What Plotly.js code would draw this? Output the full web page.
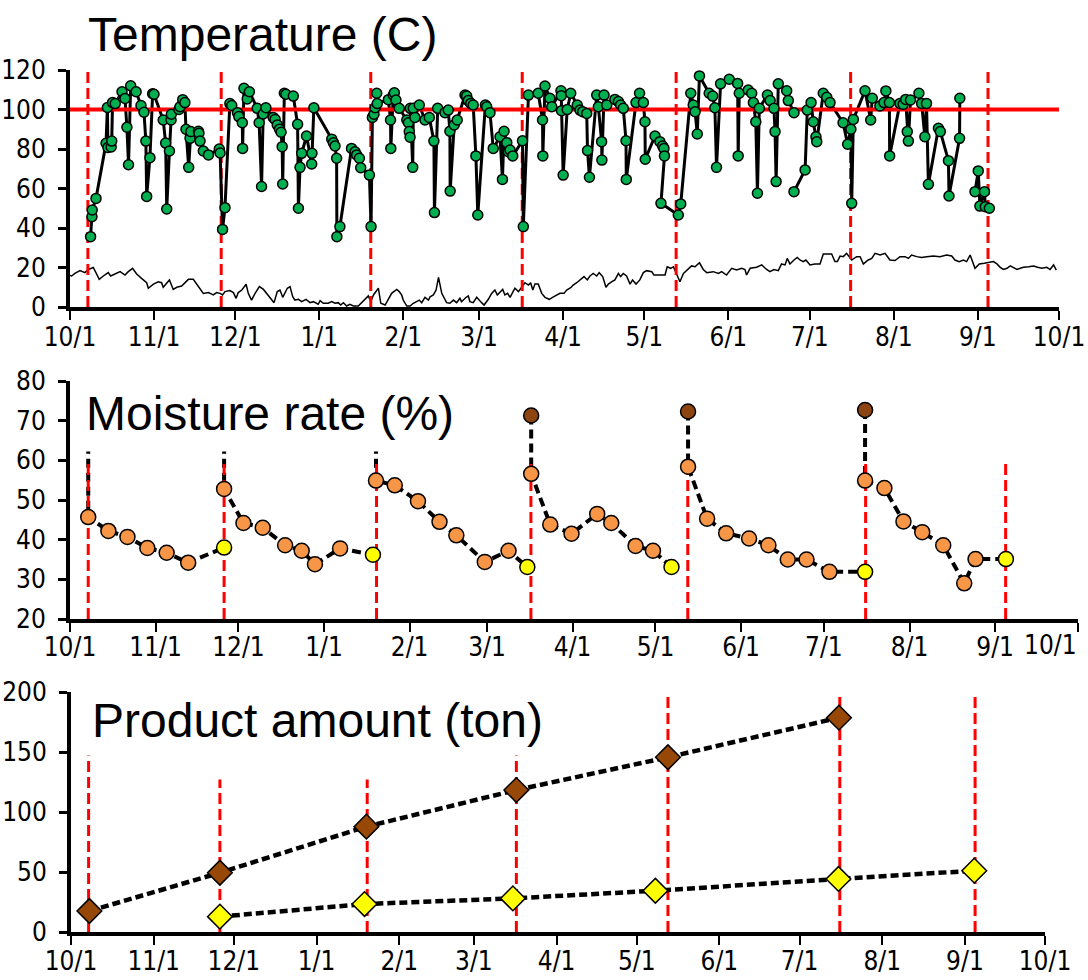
<!DOCTYPE html>
<html><head><meta charset="utf-8">
<script src="https://cdn.plot.ly/plotly-3.0.1.min.js"></script>
<style>html,body{margin:0;padding:0;background:#fff}</style>
</head><body><div id="chart" style="width:1088px;height:980px"></div>
<script>
// ---- data (days counted from 2013-10-01) ----
const startDate = '2013-10-01';
const yearDays = 365;

// batch changeover days (red dashed lines)
const batchDay = [6.6, 55.8, 111.0, 166.9, 223.7, 288.1, 338.8];
const batchProductTop = [147, 127, 127, 147, 200, 200, 200];

// product temperature (green points); null = gap
const tempDay = [
 7.6,8.1,8.2,9.6,13.3,13.8,14.0,15.2,15.4,15.7,16.7,19.2,20.3,21.0,21.6,22.4,24.4,26.2,27.3,28.0,28.3,29.5,30.5,31.0,34.4,35.3,35.7,36.7,37.3,37.4,40.2,40.6,41.6,42.4,42.8,43.8,44.3,44.6,47.4,47.6,48.0,49.2,51.1,55.1,55.4,
 56.3,57.2,59.0,59.7,61.8,62.3,63.6,63.7,64.2,65.4,66.2,69.1,69.8,70.7,71.3,72.3,75.0,75.7,76.5,77.3,77.9,78.3,78.5,79.1,79.7,82.4,84.0,84.3,84.9,85.5,87.3,89.2,89.3,90.0,96.6,97.2,97.8,98.4,98.5,99.6,103.9,105.2,105.8,106.8,107.3,110.5,
 111.1,111.6,112.2,112.6,113.2,113.4,117.5,118.3,118.4,119.3,119.7,120.3,121.5,124.3,124.9,125.2,125.5,125.6,126.5,126.7,127.3,128.9,131.0,132.6,134.3,134.5,135.7,138.4,139.6,140.2,140.3,141.8,142.9,145.8,146.4,147.0,147.9,148.8,149.8,150.5,153.3,153.8,155.0,156.2,158.7,159.6,160.2,161.2,161.8,162.4,163.4,167.0,
 167.3,169.2,172.8,174.4,174.5,175.3,177.1,177.8,181.2,181.3,181.4,182.0,183.5,184.8,187.2,188.2,189.2,190.7,191.0,191.7,194.4,195.0,196.2,196.3,197.1,198.1,201.1,202.4,203.2,204.2,205.2,205.3,208.9,210.2,211.6,212.2,212.3,215.9,217.7,218.7,219.2,219.4,218.1,
 224.5,225.4,229.1,230.0,230.7,231.5,232.3,235.9,237.2,238.0,238.6,240.1,243.3,246.4,246.6,247.0,250.3,251.6,252.2,253.1,253.7,254.4,257.4,258.4,259.8,260.2,260.6,261.4,264.5,265.1,267.2,null,267.2,271.3,272.1,273.5,274.3,275.3,275.6,278.0,279.3,280.5,285.3,287.0,288.2,
 288.5,289.1,293.4,295.5,296.1,298.9,300.4,301.1,302.4,302.5,306.3,307.5,308.4,309.0,309.4,310.2,313.3,314.3,315.5,316.1,316.8,320.5,321.2,324.2,324.4,328.3,328.4,null,334.0,335.2,335.8,337.5,337.8,339.3
];
const tempVal = [
 35.6,45.7,49.1,55,82.9,101,80.8,81,84,103.5,103,109,105.6,91,72,112,109,102,98.6,84,56,75.6,108,107.7,94.7,83,49.6,79,94.7,97.6,100,101.4,105,103.5,90,70.7,85.4,88.8,89,88,84,79,77,80,78,
 39.3,50.3,103,102,98.4,96.4,93.3,80.3,110.7,105.3,109,100.6,93.3,61,97.7,100.9,96,95,92.2,90,88.5,81.2,62.3,108.2,107.7,106.8,92.5,50,70.7,77.8,86.6,72.4,77.8,100.9,85,83.2,81.5,75.3,35.6,40.7,80.3,78.6,77,75.3,70.5,66.8,
 40.7,96,97.6,100.9,108.2,103,105,94.7,80.3,107.3,108.5,104.8,100.6,94.7,93.3,88.8,86,100.6,70.7,100.6,96,102.3,94.7,96,84,47.8,100.6,98.4,99.7,89,58.7,92.2,94.7,107.3,106.8,104.5,103.1,102.3,76.5,46.6,102.3,101.4,98.4,80.3,86.2,64.6,89,83.2,78.6,79.5,76.5,84.2,
 40.7,107.3,108.2,94.7,76.5,111.9,105.7,101.4,109.5,107,99.4,66.8,100,108.2,102.3,99.7,98.9,98,79.2,65.7,107.3,101.4,83.7,74.4,107.3,102.3,105.1,104,102.3,100.6,84.2,64.6,103.5,108.2,103.5,93.8,74.8,86.6,83.7,81.5,80.3,76.5,52.5,
 46.6,52.2,108.2,102.3,98.9,87.6,117,108.2,106.8,100.9,70.7,113,115.3,113.2,76.5,108.2,109.9,108.2,103.5,93.8,57.6,100.6,107.3,104.5,100.6,88.8,63.5,113,109.5,104.5,98.4,null,58.4,69.4,99.7,103.5,93.8,86.2,83.7,108.2,106.2,103.5,93.3,82.4,90,
 52.5,95,109.5,94.7,105.7,101.8,103.5,109.4,103.5,76.5,103.1,102.6,105.1,88.8,84,104.8,108.2,103.1,86.2,103.1,62.1,90.5,88.8,74.1,56.2,85.4,105.7,null,58.4,68.9,51.1,58.4,50.8,50
];
const tempLimit = 100;

// outside air temperature (thin line)
const ambDay = [
 0,0.6,1.8,3.7,5.5,6.8,8.6,10.8,12.3,14.1,15,16.6,18.5,20.3,21.5,23.1,24.6,26.4,28.3,28.9,30.8,32.6,33.8,34.4,35.7,36.7,38.1,39.4,41.2,42.4,43.7,45.5,47.4,49.2,51.1,52.9,54.1,55.4,56.3,57.2,59,60.3,61.3,62.1,63.4,65,65.8,67,68.3,69.9,71.4,72.6,74.1,75.3,76.5,77.5,78.5,79.3,80.2,81.2,82.2,83,84.3,85.5,87.1,88.6,89.8,91.6,92.3,93.5,95.3,96.6,97.8,99,99.9,100.9,102.1,103.3,104.6,106.4,
 107.6,108.9,110.1,111,112,113.8,114.7,116.3,117.5,118.7,120.6,121.5,122.4,123,124.3,125.5,126.7,127.7,128.9,129.8,131,132.3,132.9,134.1,135.1,136,137.2,139,140.2,141.5,142.7,143.9,144.5,146.2,147,147.6,148.8,150.1,150.7,151.9,152.8,154.4,155.6,156.8,157.7,158.7,159.7,160.5,161.5,162.4,163.4,164.2,165.5,166.7,167.9,169.2,170,170.8,171.6,172.8,174.1,175.3,176.9,178.1,179.6,180.8,182.3,183.3,184.8,185.7,187,188.4,189.7,190.9,191.9,193.1,194.4,195.3,196.6,197.8,198.7,200,201.1,202.4,203.2,204.2,205.4,206.7,207.6,208.9,210.3,211.6,212.8,214.7,215.5,216.5,218.3,219.6,220.4,221.7,222.7,223.9,225.1,226.4,228.2,229.4,230.7,232.3,
 233.7,235,237.4,239.3,240.5,242.3,244.2,246,247.9,249.1,249.7,251,253.4,255.3,257.1,258.3,259.8,261.4,262.6,263.9,264.7,265.7,267.2,268.4,269.4,270.6,271.6,273.1,274.9,276.8,278,279.5,281.1,282.3,283.2,284.2,285.4,286.6,288.5,290.3,291.6,292.8,294.6,295.9,297.1,299,300.8,302.6,304.5,306.3,308.2,309.4,310.6,312.5,314.3,316.2,318.6,321.1,323.5,325.4,326.6,328.2,329.7,330.9,332.2,334,335.6,337.4,339,340.8,342.1,343.3,344.5,345.8,347,348.2,349.5,350.7,351.9,353.8,355.6,357.1,358.7,360.5,361.7,363,364
];
const ambVal = [
 16,15.7,17,18.4,17.4,19,20,14,15.7,17.4,15.7,16.7,17.9,16.2,17.9,19.6,16.7,14.5,12.3,9.5,11.6,12.8,12.3,10,12.3,13.7,8.9,10,10.6,12.3,14,14,10.6,6.9,7.3,6.1,7.3,6.9,6.1,7.8,8.3,7.3,4.4,7.3,8.6,11.5,6.9,3.5,6.9,10.3,8.9,6.9,4.4,2.2,7.8,8.6,4.9,7.3,9.5,10.3,5.2,3.5,3.9,2.7,3.9,2.2,2.7,1.4,3.2,1.9,1.9,2.7,1.9,2.2,1,2.2,0.5,1.4,0.5,0.5,
 2.2,3.5,5.6,2.7,6.1,9.5,1.9,1,3.9,6.9,8.9,7.8,6.1,3.5,0.5,0.5,1.9,2.7,3.5,2.2,4.9,3.5,5.2,6.1,8.6,15,6.9,2.2,1.9,3.5,2.2,4.4,2.7,4.9,5.6,2.7,2.2,4.9,3.9,2.2,1,3.9,6.9,8.6,6.1,7.8,8.9,6.1,6.9,4.9,7.8,9.5,7.8,10,12.3,11.1,12.3,8.6,11.6,11.6,6.9,4.9,3.9,4.9,6.1,6.9,6.9,8.6,9.8,11.1,12.3,13.7,15.4,13.7,15.7,17,15.7,17.4,15.4,10,11.6,12.8,13.7,17,15.4,17,15.7,11.6,13.7,11.6,13.7,17.4,18.4,17.9,16.2,16.2,16.2,16.2,20.4,19.6,20.4,16.2,12.8,17,19,20.8,20.4,22.4,
 19,17.4,17.9,17,17.9,16.2,19.6,18.7,19.6,19,16.2,19.6,20.1,21.3,19,17.9,19,18.4,21.8,21.3,24.6,21.8,23.8,25.1,23.8,23,23.8,21.3,21.8,21.8,26.8,26.8,26.8,23,23,25.8,25.5,27.2,23.8,25.5,25.5,21.8,23.8,24.6,27.2,26.3,27.2,23.8,23.5,25.5,25.5,24.6,26.3,25.5,25.1,25.5,25.8,25.5,26.3,25.8,23.8,23,23.8,23,26.3,19.6,21.8,22.1,22.4,23,21.8,20.1,19,19.6,20.8,20.1,19,19.6,20.1,20.4,20.8,20.1,19.6,20.1,19,21.3,18.7
];

// moisture rate: L = loaded (initial), M = measured, U = unloaded (final)
const moistDay = [
 6.6,6.6,13.9,20.8,28.0,35.0,42.8,55.8,
 55.8,55.8,62.8,69.8,77.9,83.9,88.7,97.8,109.7,
 110.8,110.8,117.6,126.0,133.8,139.9,150.2,158.8,165.6,
 167.0,167.0,173.9,181.6,190.9,196.0,204.8,211.1,217.8,
 223.8,223.8,230.7,237.6,245.9,252.9,259.9,266.7,275.0,287.9,
 287.9,287.9,294.9,301.8,308.6,316.2,323.8,327.9,338.9
];
const moistVal = [
 71,45.7,42.2,40.7,37.9,36.7,34.2,38,
 71,52.8,44.2,43,38.6,37.2,33.8,37.8,36.2,
 71,54.9,53.7,49.7,44.5,41.1,34.4,37.2,33.1,
 71.3,56.6,43.8,41.5,46.5,44.2,38.4,37.2,33.1,
 72.3,58.4,45.3,41.6,40.3,38.6,35,35,31.9,31.9,
 72.7,54.9,53,44.6,41.9,38.6,29,35.1,35.1
];
const moistStage = [
 'L','M','M','M','M','M','M','U',
 'L','M','M','M','M','M','M','M','U',
 'L','M','M','M','M','M','M','M','U',
 'L','M','M','M','M','M','M','M','U',
 'L','M','M','M','M','M','M','M','M','U',
 'L','M','M','M','M','M','M','M','U'
];

// product amount (cumulative, ton)
const loadDay = [6.9, 55.8, 110.7, 166.9, 223.7, 287.8];
const loadTon = [17.5, 49.4, 87.8, 118.3, 145.6, 178.6];
const outDay = [55.8, 110.0, 165.6, 219.0, 287.6, 338.5];
const outTon = [12.8, 23.3, 28.0, 34.4, 44.2, 51.1];

// titles / labels
const titles = ['Temperature (C)', 'Moisture rate (%)', 'Product amount (ton)'];
const lastTickLabel = '10/1';

// ---- helpers ----
const T0 = Date.parse(startDate + 'T00:00:00Z');
function toDate(d) {
  if (d === null) return null;
  return new Date(T0 + d * 86400000).toISOString().slice(0, 19).replace('T', ' ');
}
function vlines(days, y0, tops) {
  const x = [], y = [];
  days.forEach((d, i) => { x.push(toDate(d), toDate(d), null); y.push(y0, Array.isArray(tops) ? tops[i] : tops, null); });
  return {x, y};
}
const RED_DASH = {color: '#FF0000', width: 3, dash: '11px,5px'};
const stageColor = {L: '#8C4510', M: '#F79646', U: '#FFFF00'};

// moisture line with breaks between batches
const mLineX = [], mLineY = [];
moistDay.forEach((d, i) => {
  if (moistStage[i] === 'L' && i > 0) { mLineX.push(null); mLineY.push(null); }
  mLineX.push(toDate(d)); mLineY.push(moistVal[i]);
});

const v1 = vlines(batchDay, 0, 120);
const v2 = vlines(batchDay, 20, 60);
const v3 = vlines(batchDay, 0, batchProductTop);

const traces = [
  // top panel
  {x: ambDay.map(toDate), y: ambVal, xaxis: 'x', yaxis: 'y', mode: 'lines', line: {color: '#000', width: 1.5}, hoverinfo: 'skip'},
  {x: v1.x, y: v1.y, xaxis: 'x', yaxis: 'y', mode: 'lines', line: RED_DASH, hoverinfo: 'skip'},
  {x: tempDay.map(toDate), y: tempVal, xaxis: 'x', yaxis: 'y', mode: 'lines', line: {color: '#000', width: 3}, connectgaps: false},
  {x: [toDate(0), toDate(yearDays)], y: [tempLimit, tempLimit], xaxis: 'x', yaxis: 'y', mode: 'lines', line: {color: '#FF0000', width: 4}},
  {x: tempDay.map(toDate), y: tempVal, xaxis: 'x', yaxis: 'y', mode: 'markers', marker: {size: 10, color: '#00B050', line: {color: '#000', width: 1.5}}},
  // middle panel
  {x: mLineX, y: mLineY, xaxis: 'x2', yaxis: 'y2', mode: 'lines', line: {color: '#000', width: 4, dash: '9px,5px'}, connectgaps: false},
  {x: v2.x, y: v2.y, xaxis: 'x2', yaxis: 'y2', mode: 'lines', line: RED_DASH, hoverinfo: 'skip'},
  {x: moistDay.map(toDate), y: moistVal, xaxis: 'x2', yaxis: 'y2', mode: 'markers',
   marker: {size: 15, color: moistStage.map(s => stageColor[s]), line: {color: '#000', width: 1.5}}},
  // bottom panel
  {x: v3.x, y: v3.y, xaxis: 'x3', yaxis: 'y3', mode: 'lines', line: RED_DASH, hoverinfo: 'skip'},
  {x: loadDay.map(toDate), y: loadTon, xaxis: 'x3', yaxis: 'y3', mode: 'lines+markers',
   line: {color: '#000', width: 4.5, dash: '8px,4px'}, marker: {symbol: 'diamond', size: 19, color: '#974806', line: {color: '#000', width: 1.5}}},
  {x: outDay.map(toDate), y: outTon, xaxis: 'x3', yaxis: 'y3', mode: 'lines+markers',
   line: {color: '#000', width: 4.5, dash: '8px,4px'}, marker: {symbol: 'diamond', size: 19, color: '#FFFF00', line: {color: '#000', width: 1.5}}}
];

const TICKFONT = {family: 'Liberation Sans Narrow, Arial Narrow, DejaVu Sans Condensed, sans-serif', size: 26, color: '#000'};
const H = 980, W = 1088;
function xAxis(x0, x1, anchor, standoff) {
  return {domain: [x0 / W, x1 / W], anchor, type: 'date', range: [toDate(0), toDate(yearDays)],
    tick0: startDate, dtick: 'M1', tickformat: '%-m/%-d', ticks: 'outside', ticklen: 9, tickwidth: 2, tickcolor: '#000',
    showline: true, linewidth: 4, linecolor: '#000', showgrid: false, zeroline: false, tickfont: TICKFONT, ticklabelstandoff: standoff};
}
function xInside(base, anchor) {
  return {overlaying: base, anchor, type: 'date', range: [toDate(0), toDate(yearDays)], tick0: startDate, dtick: 'M1',
    ticks: 'inside', ticklen: 9, tickwidth: 2, tickcolor: '#000', showticklabels: false, showline: false, showgrid: false, zeroline: false};
}
function yAxis(yTopPx, yBotPx, range, dtick, anchor) {
  return {domain: [1 - yBotPx / H, 1 - yTopPx / H], anchor, range, dtick, ticks: 'outside', ticklen: 8, tickwidth: 3, tickcolor: '#000',
    showline: true, linewidth: 4, linecolor: '#000', showgrid: false, zeroline: false, tickfont: TICKFONT, ticklabelstandoff: 7};
}

const TITLEFONT = {family: 'Liberation Sans, Arial, sans-serif', size: 48, color: '#000'};
const layout = {
  width: W, height: H, margin: {l: 0, r: 0, t: 0, b: 0}, paper_bgcolor: '#fff', plot_bgcolor: 'rgba(0,0,0,0)', showlegend: false,
  xaxis: xAxis(70, 1059, 'y', -5), yaxis: yAxis(70, 307, [0, 120], 20, 'x'),
  xaxis2: xAxis(70, 1078, 'y2', -7), yaxis2: yAxis(381, 619, [20, 80], 10, 'x2'),
  xaxis3: xAxis(71, 1045, 'y3', -6), yaxis3: yAxis(692, 932, [0, 200], 50, 'x3'),
  xaxis4: xInside('x', 'y'), xaxis5: xInside('x2', 'y2'), xaxis6: xInside('x3', 'y3'),
  annotations: [
    {text: titles[0], xref: 'paper', yref: 'paper', x: 86 / W, y: 1 - 35 / H, xanchor: 'left', yanchor: 'middle', showarrow: false, font: TITLEFONT},
    {text: titles[1], xref: 'paper', yref: 'paper', x: 74 / W, y: 1 - 413 / H, xanchor: 'left', yanchor: 'middle', showarrow: false, font: TITLEFONT, bgcolor: '#fff', borderpad: 11},
    {text: titles[2], xref: 'paper', yref: 'paper', x: 90 / W, y: 1 - 720 / H, xanchor: 'left', yanchor: 'middle', showarrow: false, font: TITLEFONT},
    {text: lastTickLabel, xref: 'paper', yref: 'paper', x: 1050 / W, y: 1 - 645 / H, xanchor: 'center', yanchor: 'middle', showarrow: false, font: TICKFONT}
  ]
};

Plotly.newPlot('chart', traces, layout, {displayModeBar: false, staticPlot: true});
</script>
</body></html>
